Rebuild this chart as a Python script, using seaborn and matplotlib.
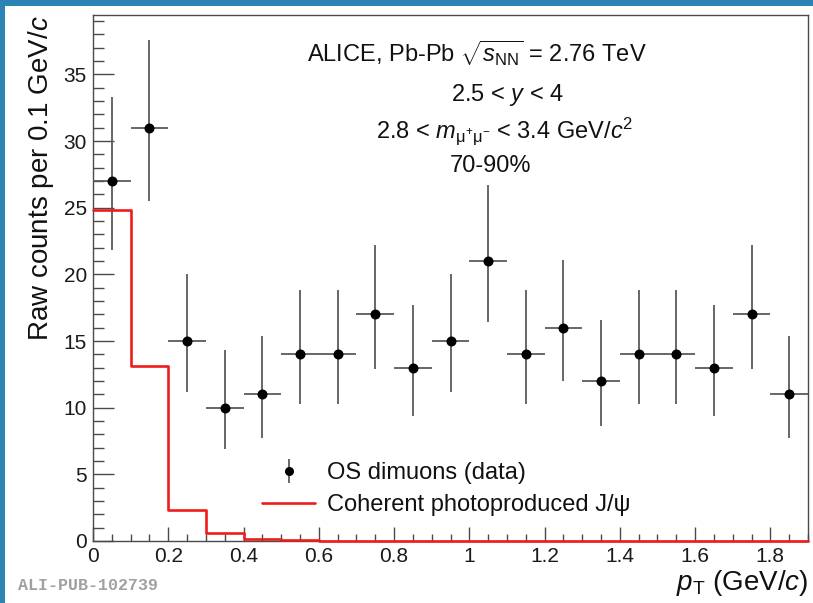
import numpy as np
import pandas as pd
import matplotlib
matplotlib.use("Agg")
import matplotlib.pyplot as plt
from matplotlib.patches import Rectangle
import seaborn as sns

# ---------------- data ----------------
pt_centers = [0.05, 0.15, 0.25, 0.35, 0.45, 0.55, 0.65, 0.75, 0.85, 0.95,
              1.05, 1.15, 1.25, 1.35, 1.45, 1.55, 1.65, 1.75, 1.85]
counts = [27, 31, 15, 10, 11, 14, 14, 17, 13, 15,
          21, 14, 16, 12, 14, 14, 13, 17, 11]
err_up = [6.3, 6.6, 5.0, 4.3, 4.4, 4.8, 4.8, 5.2, 4.7, 5.0,
          5.7, 4.8, 5.1, 4.6, 4.8, 4.8, 4.7, 5.2, 4.4]
err_lo = [5.2, 5.5, 3.8, 3.1, 3.3, 3.7, 3.7, 4.1, 3.6, 3.8,
          4.6, 3.7, 4.0, 3.4, 3.7, 3.7, 3.6, 4.1, 3.3]
bin_halfwidth = 0.05

coh_edges = [0.0, 0.1, 0.2, 0.3, 0.4, 0.5, 0.6, 0.7, 0.8, 0.9, 1.0,
             1.1, 1.2, 1.3, 1.4, 1.5, 1.6, 1.7, 1.8, 1.9]
coh_values = [24.8, 13.1, 2.3, 0.6, 0.15, 0.05, 0.03, 0.02, 0.01, 0.0,
              0.0, 0.0, 0.0, 0.0, 0.0, 0.0, 0.0, 0.0, 0.0]

x_ticks = [0, 0.2, 0.4, 0.6, 0.8, 1.0, 1.2, 1.4, 1.6, 1.8]
x_ticklabels = ["0", "0.2", "0.4", "0.6", "0.8", "1", "1.2", "1.4", "1.6", "1.8"]
y_ticks = [0, 5, 10, 15, 20, 25, 30, 35]
y_ticklabels = ["0", "5", "10", "15", "20", "25", "30", "35"]

label_data = "OS dimuons (data)"
label_coh = "Coherent photoproduced J/\u03c8"

# ---------------- style ----------------
sns.set_theme(style="ticks")
plt.rcParams["font.family"] = ["Liberation Sans", "DejaVu Sans"]
plt.rcParams["mathtext.fontset"] = "custom"
plt.rcParams["mathtext.rm"] = "Liberation Sans"
plt.rcParams["mathtext.it"] = "Liberation Sans:italic"
plt.rcParams["mathtext.bf"] = "Liberation Sans:bold"

W, H = 813, 603
fig = plt.figure(figsize=(W / 100, H / 100), dpi=100)
fig.patch.set_facecolor("white")
ax = fig.add_axes([93 / W, 1 - 541 / H, (808 - 93) / W, (541 - 15) / H])

axis_col = "#4a4a4a"
err_col = "#5a5a5a"
red = "#ee1c1c"

# coherent J/psi histogram (step)
df_coh = pd.DataFrame({"x": coh_edges, "y": coh_values + [coh_values[-1]]})
sns.lineplot(data=df_coh, x="x", y="y", drawstyle="steps-post", color=red,
             linewidth=1.9, estimator=None, sort=False, ax=ax, zorder=4,
             clip_on=False, legend=False)

# data points with error bars
df = pd.DataFrame({"pt": pt_centers, "n": counts, "up": err_up, "lo": err_lo})
ax.errorbar(df["pt"], df["n"], yerr=[df["lo"], df["up"]],
            xerr=bin_halfwidth, fmt="none", ecolor=err_col, elinewidth=1.3,
            capsize=0, zorder=3)
sns.scatterplot(data=df, x="pt", y="n", color="black", s=52, edgecolor="black",
                linewidth=0, ax=ax, zorder=5, legend=False)

# legend proxies
h_data = ax.errorbar([np.nan], [np.nan], yerr=[[1.0], [1.0]], fmt="o",
                     color="black", ecolor=err_col, markersize=5.5,
                     elinewidth=1.3, capsize=0)
h_coh, = ax.plot([np.nan], [np.nan], color=red, linewidth=1.9)
leg = ax.legend([h_data, h_coh], [label_data, label_coh], loc="upper left",
                bbox_to_anchor=((262 - 93) / 715, (541 - 462) / 526),
                frameon=False, fontsize=17, handlelength=2.25,
                handletextpad=0.5, labelspacing=0.42, borderpad=0,
                borderaxespad=0)
for t in leg.get_texts():
    t.set_color("#111111")

# axes
ax.set_xlim(0, 1.9)
ax.set_ylim(0, 39.45)
ax.set_xticks(x_ticks)
ax.set_xticklabels(x_ticklabels)
ax.set_yticks(y_ticks)
ax.set_yticklabels(y_ticklabels)
ax.set_xticks(np.arange(0, 1.9001, 0.05), minor=True)
ax.set_yticks(np.arange(0, 39.1, 1), minor=True)
ax.tick_params(axis="both", which="both", direction="in", colors=axis_col,
               labelcolor="#1a1a1a", width=1.0, labelsize=15,
               top=False, right=False)
ax.tick_params(axis="y", which="major", length=15, pad=4.5)
ax.tick_params(axis="y", which="minor", length=7.7)
ax.tick_params(axis="x", which="major", length=10, pad=4)
ax.tick_params(axis="x", which="minor", length=5)
for sp in ax.spines.values():
    sp.set_visible(True)
    sp.set_color(axis_col)
    sp.set_linewidth(1.0)

ax.set_xlabel(r"$p_{\mathrm{T}}$ (GeV/$c$)", fontsize=20, color="#111111",
              loc="right", labelpad=2)
ax.set_ylabel(r"Raw counts per 0.1 GeV/$c$", fontsize=20, color="#111111",
              loc="top", labelpad=5)

# header text
def ax_xy(px, py):
    return ax.transAxes.inverted().transform(
        fig.transFigure.transform((px / W, 1 - py / H)))

for s, (px, py) in [
    (r"ALICE, Pb-Pb $\sqrt{s_{\mathrm{NN}}}$ = 2.76 TeV", (477, 53)),
    (r"2.5 < $y$ < 4", (507, 95)),
    (r"2.8 < $m_{\mathrm{\mu^{+}\mu^{-}}}$ < 3.4 GeV/$c^{2}$", (505, 131)),
    (r"70-90%", (490, 166)),
]:
    xa, ya = ax_xy(px, py)
    ax.text(xa, ya, s, transform=ax.transAxes, ha="center", va="center",
            fontsize=17, color="#111111")

# watermark
fig.text(18 / W, 1 - 586 / H, "ALI-PUB-102739", family="Liberation Mono",
         fontweight="bold", fontsize=12, color="#a0a0a0", ha="left",
         va="center")

# blue frame
blue = "#2c84b4"
fig.patches.append(Rectangle((0, 1 - 6 / H), 1, 6 / H, transform=fig.transFigure,
                             facecolor=blue, edgecolor="none", zorder=10))
fig.patches.append(Rectangle((0, 0), 5 / W, 1, transform=fig.transFigure,
                             facecolor=blue, edgecolor="none", zorder=10))

fig.savefig("out.png", dpi=100)
